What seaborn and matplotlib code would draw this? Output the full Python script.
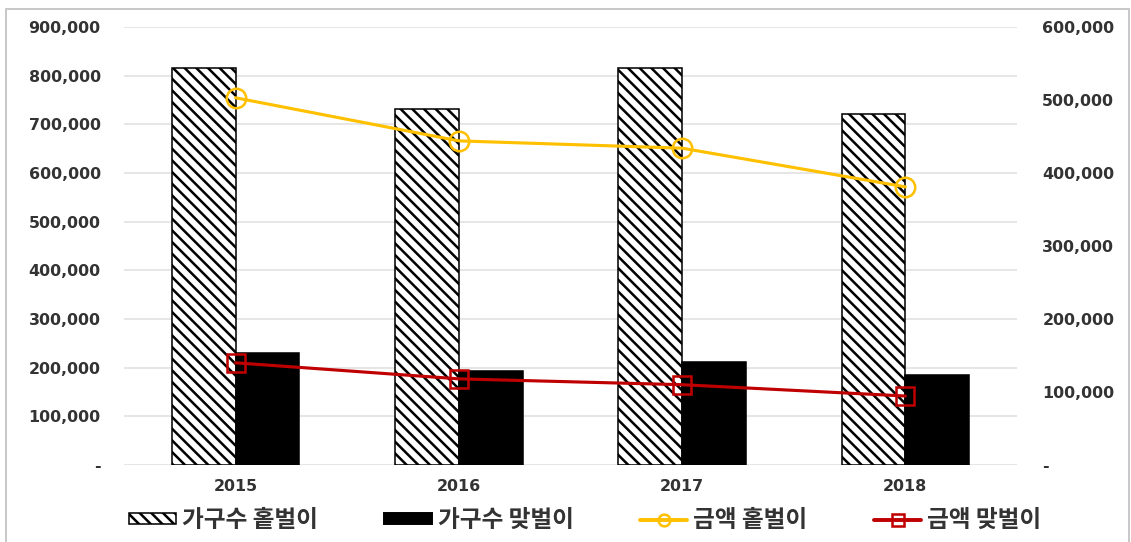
import matplotlib
matplotlib.use("Agg")
import matplotlib.pyplot as plt
import seaborn as sns
import pandas as pd
from matplotlib.patches import Patch, Rectangle
from matplotlib.lines import Line2D
from matplotlib.ticker import FuncFormatter, MultipleLocator

years = ["2015", "2016", "2017", "2018"]
hh_single = [816000, 731000, 816000, 721000]   # 가구수 홑벌이 (left axis)
hh_dual = [230000, 193000, 212000, 185000]     # 가구수 맞벌이 (left axis)
amt_single = [503000, 444000, 434000, 381000]  # 금액 홑벌이 (right axis)
amt_dual = [140000, 118000, 110000, 94500]     # 금액 맞벌이 (right axis)
bar_names = ["가구수 홑벌이", "가구수 맞벌이"]
line_names = ["금액 홑벌이", "금액 맞벌이"]

YELLOW = "#FFC000"
RED = "#C00000"
TXT = "#333333"

sns.set_theme(style="white")
plt.rcParams['font.family'] = ['Noto Sans CJK KR', 'DejaVu Sans']
plt.rcParams['hatch.linewidth'] = 1.3

DPI = 140
W, H = 1131, 542
fig = plt.figure(figsize=(W / DPI, H / DPI), dpi=DPI)
ax = fig.add_axes([124 / W, (H - 465) / H, (1017 - 124) / W, (465 - 27) / H])

df = pd.DataFrame({
    "year": years * 2,
    "value": hh_single + hh_dual,
    "series": [bar_names[0]] * len(years) + [bar_names[1]] * len(years),
})
sns.barplot(data=df, x="year", y="value", hue="series", palette=["white", "black"],
            width=0.57, saturation=1, edgecolor="black", linewidth=0.8,
            ax=ax, legend=False, zorder=2)
for p in ax.containers[0]:
    p.set_hatch("\\\\\\\\")

ax.set_ylim(0, 900000)
ax.yaxis.set_major_locator(MultipleLocator(100000))
fmt = FuncFormatter(lambda v, pos: "-" if v == 0 else f"{int(v):,}")
ax.yaxis.set_major_formatter(fmt)
ax.grid(axis="y", color="#e0e0e0", linewidth=0.8, zorder=0)
ax.set_axisbelow(True)
for s in ax.spines.values():
    s.set_visible(False)
ax.set_xlabel("")
ax.set_ylabel("")

ax2 = ax.twinx()
sns.lineplot(x=years, y=amt_single, ax=ax2, color=YELLOW, linewidth=1.6, marker="o",
             markersize=10, markerfacecolor="none", markeredgecolor=YELLOW, markeredgewidth=1.3)
sns.lineplot(x=years, y=amt_dual, ax=ax2, color=RED, linewidth=1.6, marker="s",
             markersize=9, markerfacecolor="none", markeredgecolor=RED, markeredgewidth=1.3)
ax2.set_ylim(0, 600000)
ax2.yaxis.set_major_locator(MultipleLocator(100000))
ax2.yaxis.set_major_formatter(fmt)
for s in ax2.spines.values():
    s.set_visible(False)
ax2.grid(False)
ax2.set_ylabel("")
ax.set_xlim(-0.5, 3.5)
ax2.set_xlim(-0.5, 3.5)

tick_font = dict(family="DejaVu Sans", weight="bold", size=8.2)
ax.tick_params(axis="y", length=0, pad=12, colors=TXT)
ax.tick_params(axis="x", length=0, pad=7, colors=TXT)
ax2.tick_params(axis="y", length=0, pad=13, colors=TXT)
for lab in ax.get_yticklabels() + ax.get_xticklabels() + ax2.get_yticklabels():
    lab.set_fontproperties(tick_font)

handles = [
    Patch(facecolor="white", edgecolor="black", hatch="\\\\\\\\", linewidth=0.8),
    Patch(facecolor="black", edgecolor="black"),
    Line2D([0], [0], color=YELLOW, lw=2, marker="o", markersize=6, mfc="none", mec=YELLOW, mew=1.3),
    Line2D([0], [0], color=RED, lw=2, marker="s", markersize=6, mfc="none", mec=RED, mew=1.3),
]
fig.legend(handles, bar_names + line_names, loc="center", bbox_to_anchor=(585 / W, 22 / H),
           ncol=4, frameon=False, handlelength=2.0, handleheight=0.38, handletextpad=0.25,
           columnspacing=2.8, prop=dict(family=["Noto Sans CJK KR", "DejaVu Sans"], weight="bold", size=12.2),
           labelcolor=TXT)

fig.add_artist(Rectangle((6 / W, -0.05), (1129 - 6) / W, (H - 9) / H + 0.05,
                         transform=fig.transFigure, fill=False, edgecolor="#c8c8c8", linewidth=1.0))

fig.savefig("out.png", dpi=DPI)
